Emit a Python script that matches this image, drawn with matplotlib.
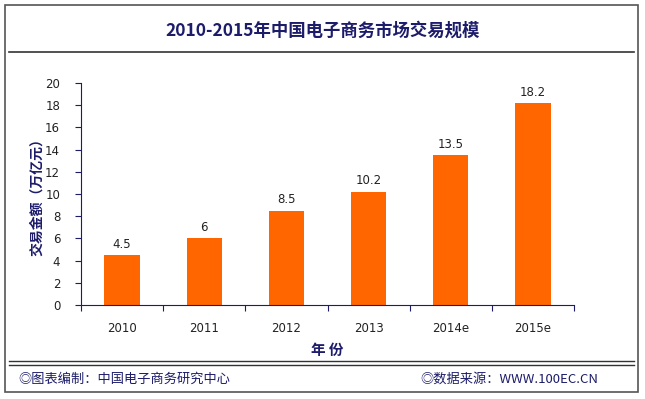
import matplotlib
matplotlib.use("Agg")
import matplotlib.pyplot as plt
from matplotlib.patches import Rectangle
from matplotlib.lines import Line2D

plt.rcParams['font.family'] = ['Noto Sans CJK SC', 'DejaVu Sans']

# dados
anos = ["2010", "2011", "2012", "2013", "2014e", "2015e"]
valores = [4.5, 6, 8.5, 10.2, 13.5, 18.2]
rotulos = ["4.5", "6", "8.5", "10.2", "13.5", "18.2"]

navy = "#1c1c6b"
W, H = 645, 399

fig = plt.figure(figsize=(6.45, 3.99), dpi=100)
fig.patch.set_facecolor("white")

# moldura externa e linhas
fig.patches.append(Rectangle((5 / W, 1 - 392 / H), 633 / W, 387 / H, transform=fig.transFigure,
                             fill=False, edgecolor="#555555", linewidth=1.2))
fig.lines.append(Line2D([9 / W, 634 / W], [1 - 52 / H] * 2, transform=fig.transFigure, color="#333333", lw=1.2))
fig.lines.append(Line2D([9 / W, 634 / W], [1 - 361 / H] * 2, transform=fig.transFigure, color="#333333", lw=1.0))
fig.lines.append(Line2D([9 / W, 634 / W], [1 - 365 / H] * 2, transform=fig.transFigure, color="#333333", lw=1.0))

fig.text(0.5, 1 - 31 / H, "2010-2015年中国电子商务市场交易规模", ha="center", va="center",
         fontsize=12.5, fontweight="bold", color=navy)

ax = fig.add_axes([81 / W, 1 - 305 / H, 493 / W, 222 / H])
x = list(range(len(anos)))
ax.bar(x, valores, width=0.43, color="#ff6600")
for xi, v, r in zip(x, valores, rotulos):
    ax.text(xi, v + 0.4, r, ha="center", va="bottom", fontsize=8.5, color="#222222", family="DejaVu Sans")

ax.set_xlim(-0.5, len(anos) - 0.5)
ax.set_ylim(0, 20)
ax.set_yticks(range(0, 21, 2))
ax.set_yticklabels([str(t) for t in range(0, 21, 2)], fontsize=8.5, color="#222222", family="DejaVu Sans")
ax.set_xticks([i + 0.5 for i in range(-1, len(anos))])
ax.set_xticklabels([])
ax.set_xticks(x, minor=True)
ax.set_xticklabels(anos, minor=True, fontsize=8.5, color="#222222", family="DejaVu Sans")
ax.tick_params(axis="x", which="minor", length=0, pad=12)
ax.tick_params(axis="x", which="major", length=4, color=navy)
ax.tick_params(axis="y", length=4, color=navy, pad=11)
for s in ["top", "right"]:
    ax.spines[s].set_visible(False)
for s in ["left", "bottom"]:
    ax.spines[s].set_color(navy)
ax.set_ylabel("交易金额（万亿元）", fontsize=10, fontweight="bold", color=navy, labelpad=1)
ax.set_xlabel("年 份", fontsize=10.5, fontweight="bold", color=navy, labelpad=5)

fig.text(18 / W, 1 - 379 / H, "◎图表编制：中国电子商务研究中心", ha="left", va="center",
         fontsize=9.5, color=navy)
fig.text(420 / W, 1 - 379 / H, "◎数据来源：WWW.100EC.CN", ha="left", va="center",
         fontsize=9.5, color=navy)

fig.savefig("out.png", dpi=100)
